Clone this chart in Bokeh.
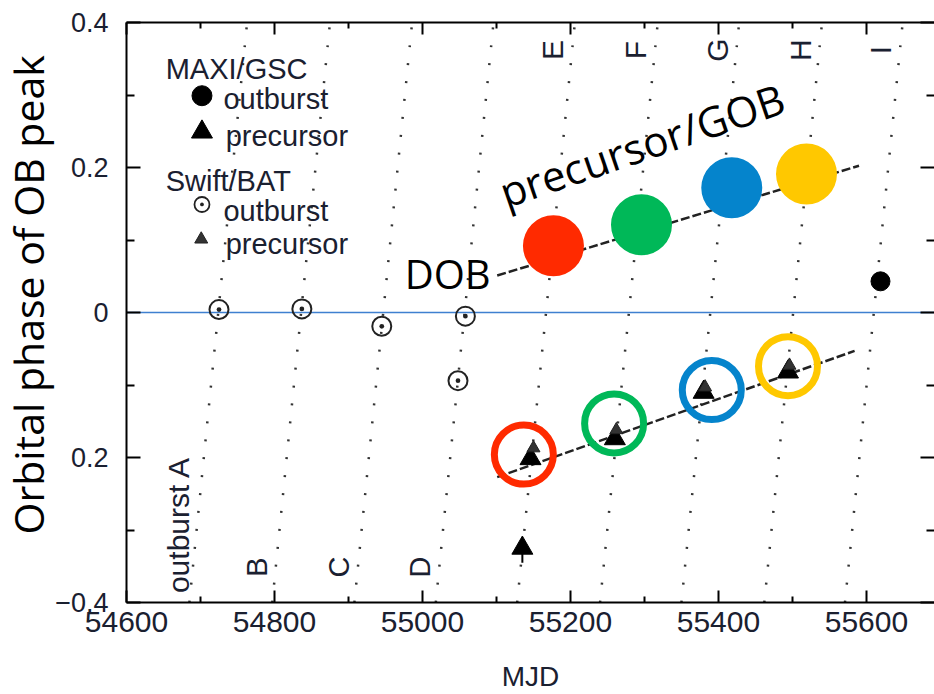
import math
from bokeh.plotting import figure
from bokeh.models import Range1d, LinearAxis, Span, Title, FixedTicker, BasicTickFormatter
from bokeh.core.properties import value
from bokeh.embed import file_html
from bokeh.resources import INLINE

# ---------------- data ----------------
# dotted orbital-cycle lines: MJD where each line meets phase -0.4 and +0.4
cycle_names = ["outburst A", "B", "C", "D", "E", "F", "G", "H", "I"]
line_mjd_lo = [54685, 54797, 54908, 55018, 55128, 55240, 55350, 55462, 55571]
line_mjd_hi = [54763, 54875, 54986, 55096, 55206, 55318, 55428, 55540, 55649]
line_phase = [-0.4, 0.4]

# Swift/BAT outburst peaks
bat_ob_mjd = [54725, 54837, 54945, 55058, 55048]
bat_ob_phase = [0.004, 0.005, -0.019, -0.005, -0.094]
# Swift/BAT precursor peaks
bat_pre_mjd = [55150, 55262, 55382, 55496]
bat_pre_phase = [-0.187, -0.162, -0.103, -0.073]
# MAXI/GSC outburst peak
gsc_ob_mjd = [55619]
gsc_ob_phase = [0.043]
# MAXI/GSC precursor peaks
gsc_pre_mjd = [55146, 55260, 55380, 55494, 55135]
gsc_pre_phase = [-0.2015, -0.174, -0.110, -0.082, -0.325]
gsc_pre_err_lo = [None, None, None, None, -0.345]

# dashed trend lines
trend_up_mjd = [55101, 55590]
trend_up_phase = [0.051, 0.2025]
trend_lo_mjd = [55101, 55584]
trend_lo_phase = [-0.227, -0.053]

# highlighted DOB / precursor-GOB (filled) and precursor (rings)
hl_colors = ["#ff2a00", "#00b858", "#0584cc", "#ffc800"]
dob_mjd = [55177, 55296, 55418, 55519]
dob_phase = [0.092, 0.121, 0.172, 0.191]
ring_mjd = [55137, 55259, 55391, 55494]
ring_phase = [-0.196, -0.153, -0.107, -0.074]

x_ticks = [54600, 54800, 55000, 55200, 55400, 55600]
x_minor = [54700, 54900, 55100, 55300, 55500]
y_ticks = [-0.4, -0.2, 0.0, 0.2, 0.4]
y_minor = [-0.3, -0.1, 0.1, 0.3]
y_tick_labels = {0.4: "0.4", 0.2: "0.2", 0.0: "0", -0.2: "0.2", -0.4: "\u22120.4"}

# ---------------- figure ----------------
TXT = "#1a2030"
p = figure(width=934, height=694, output_backend="svg", toolbar_location=None,
           x_range=Range1d(54600, 55692), y_range=Range1d(-0.4, 0.4),
           min_border_left=126, min_border_right=0, min_border_top=22, min_border_bottom=91)
p.outline_line_color = None
p.grid.visible = False
p.background_fill_color = "white"

xt = FixedTicker(ticks=x_ticks, minor_ticks=x_minor)
yt = FixedTicker(ticks=y_ticks, minor_ticks=y_minor)

def style_x(ax, labels=True):
    ax.ticker = xt
    ax.major_tick_in = 12
    ax.major_tick_out = 0
    ax.minor_tick_in = 6
    ax.minor_tick_out = 0
    ax.major_tick_line_width = 2
    ax.minor_tick_line_width = 2
    ax.major_tick_line_color = "black"
    ax.minor_tick_line_color = "black"
    ax.axis_line_width = 2
    ax.axis_line_color = "black"
    if labels:
        ax.major_label_text_font = "Liberation Sans"
        ax.major_label_text_font_size = "30px"
        ax.major_label_text_color = TXT
        ax.major_label_standoff = 9
    else:
        ax.major_label_overrides = {t: "" for t in x_ticks}
        ax.major_label_text_font_size = "1px"
        ax.major_label_standoff = 0

def style_y(ax, labels=True):
    ax.ticker = yt
    ax.major_tick_in = 14
    ax.major_tick_out = 0
    ax.minor_tick_in = 8
    ax.minor_tick_out = 0
    ax.major_tick_line_width = 2
    ax.minor_tick_line_width = 2
    ax.major_tick_line_color = "black"
    ax.minor_tick_line_color = "black"
    ax.axis_line_width = 2
    ax.axis_line_color = "black"
    if labels:
        ax.major_label_text_font = "Liberation Sans"
        ax.major_label_text_font_size = "27px"
        ax.major_label_text_color = TXT
        ax.major_label_standoff = 18
        ax.major_label_overrides = y_tick_labels
    else:
        ax.major_label_overrides = {t: "" for t in y_ticks}
        ax.major_label_text_font_size = "1px"
        ax.major_label_standoff = 0

bx = p.xaxis[0]
style_x(bx)
bx.formatter = BasicTickFormatter(use_scientific=False)
bx.axis_label = "MJD"
bx.axis_label_text_font = "Liberation Sans"
bx.axis_label_text_font_size = "28px"
bx.axis_label_text_font_style = "normal"
bx.axis_label_text_color = TXT
bx.axis_label_standoff = 26

ly = p.yaxis[0]
style_y(ly)

top = LinearAxis()
style_x(top, labels=False)
p.add_layout(top, "above")

right = LinearAxis()
style_y(right, labels=False)
right.axis_line_color = None
p.add_layout(right, "right")

# y-axis title as a side title (starting above the frame bottom like the reference)
p.add_layout(Title(text="Orbital phase of OB peak", align="left", offset=68, standoff=-6,
                   text_font="Open Sans", text_font_size="41px", text_font_style="normal",
                   text_color="black"), "left")

# zero-phase line
p.add_layout(Span(location=0, dimension="width", line_color="#3f80d0", line_width=1.6, level="underlay"))

# dotted orbital-cycle lines
p.multi_line(xs=[[lo, hi] for lo, hi in zip(line_mjd_lo, line_mjd_hi)],
             ys=[line_phase for _ in line_mjd_lo],
             line_color="#333333", line_width=2.5, line_dash="2 16")

def line_at(i, ph):
    lo, hi = line_mjd_lo[i], line_mjd_hi[i]
    return lo + (hi - lo) * (ph - line_phase[0]) / (line_phase[1] - line_phase[0])

LBL_OFF = 26  # days left of each line
lbl_font = value("Liberation Sans")
# "outburst A" (anchored at its start)
p.text(x=[line_at(0, -0.387) - 16], y=[-0.387], text=[cycle_names[0]], angle=math.pi / 2,
       text_align="left", text_baseline="middle", text_font=lbl_font, text_font_size="30px",
       text_color=TXT)
bot_idx = [1, 2, 3]
p.text(x=[line_at(i, -0.351) - LBL_OFF for i in bot_idx], y=[-0.351] * len(bot_idx),
       text=[cycle_names[i] for i in bot_idx], angle=math.pi / 2,
       text_align="center", text_baseline="middle", text_font=lbl_font, text_font_size="29px",
       text_color=TXT)
top_idx = [4, 5, 6, 7, 8]
p.text(x=[line_at(i, 0.362) - LBL_OFF for i in top_idx], y=[0.362] * len(top_idx),
       text=[cycle_names[i] for i in top_idx], angle=math.pi / 2,
       text_align="center", text_baseline="middle", text_font=lbl_font, text_font_size="30px",
       text_color=TXT)

# dashed trend lines
p.line(trend_up_mjd, trend_up_phase, line_color="#222222", line_width=2.5, line_dash="9 3")
p.line(trend_lo_mjd, trend_lo_phase, line_color="#222222", line_width=2.5, line_dash="9 3")

# data points
p.scatter(bat_ob_mjd, bat_ob_phase, marker="circle_dot", size=19, fill_color=None,
          line_color="#222222", line_width=2)
err = [(m, lo, ph) for m, lo, ph in zip(gsc_pre_mjd, gsc_pre_err_lo, gsc_pre_phase) if lo is not None]
p.segment(x0=[e[0] for e in err], y0=[e[1] for e in err], x1=[e[0] for e in err], y1=[e[2] for e in err],
          line_color="black", line_width=2)
p.scatter(gsc_pre_mjd, gsc_pre_phase, marker="triangle", size=21, fill_color="black", line_color="black")
p.scatter(bat_pre_mjd, bat_pre_phase, marker="triangle", size=13, fill_color="#333333",
          line_color="#222222")
p.scatter(gsc_ob_mjd, gsc_ob_phase, marker="circle", size=19, fill_color="black", line_color="black")

# highlights
p.scatter(ring_mjd, ring_phase, marker="circle", size=59, fill_color=None,
          line_color=hl_colors, line_width=7)
p.scatter(dob_mjd, dob_phase, marker="circle", size=61, fill_color=hl_colors, line_color=None)

ann_font = value("Open Sans")
p.text(x=[54976], y=[0.054], text=["DOB"], text_font=ann_font, text_font_size="40px",
       text_align="left", text_baseline="alphabetic", text_color="black")
p.text(x=[55106], y=[0.165], text=["precursor/GOB"], angle=0.33, text_font=ann_font,
       text_font_size="42px", text_align="left", text_baseline="alphabetic", text_color="black")

# legend (manual, two groups)
p.text(x=[54653, 54653], y=[0.336, 0.182], text=["MAXI/GSC", "Swift/BAT"], text_font=lbl_font,
       text_font_size="29px", text_align="left", text_baseline="alphabetic", text_color=TXT)
p.text(x=[54731, 54734, 54731, 54734], y=[0.295, 0.244, 0.140, 0.095],
       text=["outburst", "precursor", "outburst", "precursor"], text_font=lbl_font,
       text_font_size="29px", text_align="left", text_baseline="alphabetic", text_color=TXT)
p.scatter([54702], [0.299], marker="circle", size=20, fill_color="black", line_color="black")
p.scatter([54702], [0.249], marker="triangle", size=21, fill_color="black", line_color="black")
p.scatter([54702], [0.149], marker="circle_dot", size=15, fill_color=None, line_color="#222222",
          line_width=1.8)
p.scatter([54701], [0.101], marker="triangle", size=13, fill_color="#333333", line_color="#222222")

open("out.html", "w").write(file_html(p, INLINE))
